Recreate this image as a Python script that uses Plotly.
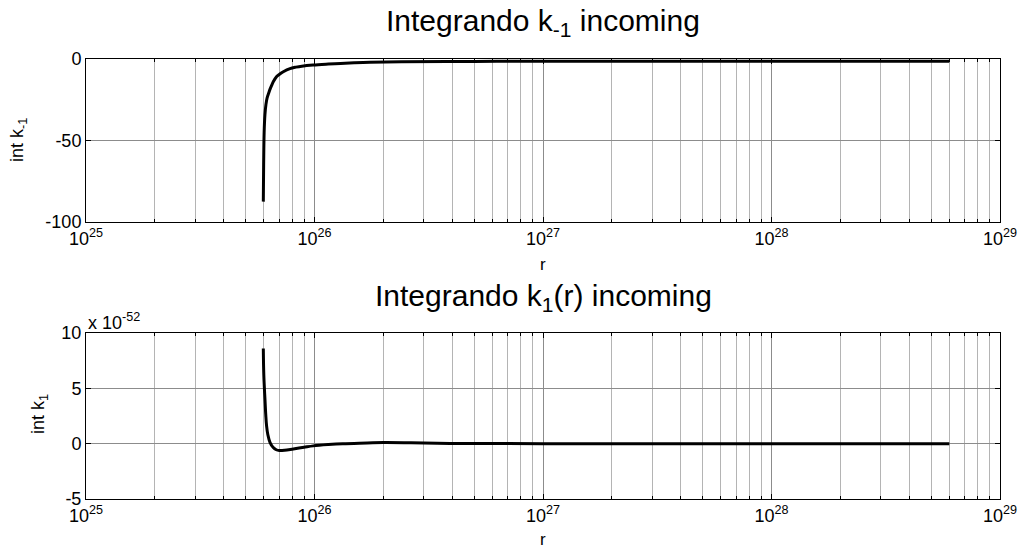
import plotly.graph_objects as go

# ---- data ----
r_top = [5.97e25, 5.99e25, 6.02e25, 6.07e25, 6.13e25, 6.2e25, 6.3e25, 6.39e25, 6.5e25, 6.6e25,
         6.83e25, 7.05e25, 7.3e25, 7.81e25, 8.3e25, 8.8e25, 9.85e25, 1.15e26, 1.3e26,
         1.5e26, 1.75e26, 2.4e26, 5e26, 1e27, 1e28, 6e28]
int_km1 = [-87.5, -65, -45, -34, -28, -24, -21, -18.5, -16, -14,
           -10.8, -9.2, -7.8, -5.9, -5.0, -4.4, -3.7, -3.1, -2.7,
           -2.3, -2.0, -1.7, -1.5, -1.4, -1.4, -1.4]

r_bot = [5.97e25, 6.0e25, 6.07e25, 6.12e25, 6.17e25, 6.25e25, 6.39e25, 6.6e25, 6.8e25,
         7.01e25, 7.4e25, 8.08e25, 9.0e25, 9.88e25, 1.15e26, 1.33e26,
         1.7e26, 2.0e26, 2.62e26, 3.92e26, 1e27, 1e28, 6e28]
int_k1 = [8.6e-52, 6.2e-52, 4.0e-52, 2.6e-52, 1.6e-52, 0.8e-52, 0.1e-52, -0.35e-52, -0.55e-52,
          -0.62e-52, -0.6e-52, -0.48e-52, -0.33e-52, -0.2e-52, -0.08e-52, 0.0,
          0.06e-52, 0.1e-52, 0.08e-52, 0.02e-52, 0.0, 0.0, 0.0]
k1_scale = 1e-52

decades = [1e25, 1e26, 1e27, 1e28, 1e29]
decade_labels = ["10<sup>25</sup>", "10<sup>26</sup>", "10<sup>27</sup>", "10<sup>28</sup>", "10<sup>29</sup>"]
minor_vals = [m * d for d in decades[:-1] for m in range(2, 10)]

top_yticks = [-100, -50, 0]
bot_yticks = [-5, 0, 5, 10]

FONT = "Liberation Sans, Arial, sans-serif"
W, H = 1021, 548

def px(X):
    return X / W

def py(Y):
    return 1 - Y / H

fig = go.Figure()
fig.add_trace(go.Scatter(x=r_top, y=int_km1, mode="lines", line_shape="spline",
                         line=dict(color="black", width=3), xaxis="x", yaxis="y",
                         showlegend=False))
fig.add_trace(go.Scatter(x=r_bot, y=[v / k1_scale for v in int_k1], mode="lines",
                         line_shape="spline",
                         line=dict(color="black", width=3), xaxis="x2", yaxis="y2",
                         showlegend=False))

xdom = [px(86), px(1000)]
ytop = [py(222), py(59)]
ybot = [py(499), py(333)]

def xaxis(anchor):
    return dict(type="log", range=[25, 29], domain=xdom, anchor=anchor, automargin=False,
                tickvals=decades, ticktext=decade_labels, ticklabeloverflow="allow",
                ticks="inside", ticklen=5, tickcolor="black",
                showline=True, linecolor="black", linewidth=1, mirror="ticks",
                showgrid=True, gridcolor="#8c8c8c", gridwidth=1,
                minor=dict(tickvals=minor_vals, ticks="inside", ticklen=3,
                           tickcolor="black", showgrid=True,
                           gridcolor="#b4b4b4", gridwidth=1),
                tickfont=dict(family=FONT, size=18, color="black"),
                zeroline=False)

def yaxis(anchor, dom, rng, tv):
    return dict(range=rng, domain=dom, anchor=anchor, automargin=False, tickvals=tv,
                ticktext=[str(v) for v in tv], ticklabeloverflow="allow",
                ticks="inside", ticklen=5, tickcolor="black",
                showline=True, linecolor="black", linewidth=1, mirror="ticks",
                showgrid=True, gridcolor="#8c8c8c", gridwidth=1,
                tickfont=dict(family=FONT, size=18, color="black"),
                zeroline=False)

fig.update_layout(
    width=W, height=H, margin=dict(l=0, r=0, t=0, b=0, autoexpand=False),
    paper_bgcolor="white", plot_bgcolor="white",
    xaxis=xaxis("y"), yaxis=yaxis("x", ytop, [-100, 0], top_yticks),
    xaxis2=xaxis("y2"), yaxis2=yaxis("x2", ybot, [-5, 10], bot_yticks),
    font=dict(family=FONT, color="black"),
)

def ann(text, x, y, size, xanchor="center", yanchor="middle", **kw):
    fig.add_annotation(text=text, x=px(x), y=py(y), xref="paper", yref="paper",
                       xanchor=xanchor, yanchor=yanchor, showarrow=False,
                       font=dict(family=FONT, size=size, color="black"), **kw)

ann("Integrando k<sub>-1</sub> incoming", 543, 22, 30)
ann("Integrando k<sub>1</sub>(r) incoming", 543, 298, 30)
ann("r", 543, 264, 17)
ann("r", 543, 539, 17)
ann("int k<sub>-1</sub>", 18, 140, 18, textangle=-90)
ann("int k<sub>1</sub>", 39, 414, 18, textangle=-90)
ann("x 10<sup>-52</sup>", 86, 321, 18, xanchor="left")

fig.write_html("out.html", config={"displayModeBar": False},
               post_script="document.body.style.margin='0';document.body.style.overflow='hidden';")
